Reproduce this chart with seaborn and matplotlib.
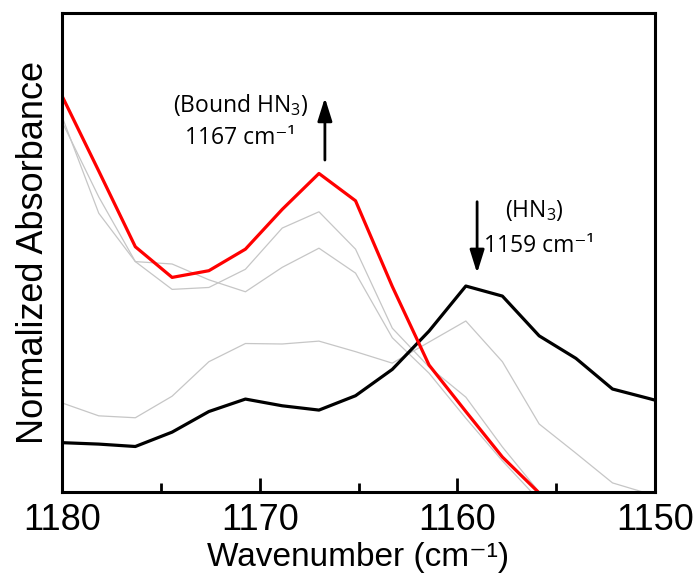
import matplotlib
matplotlib.use("Agg")
import matplotlib.pyplot as plt
import numpy as np
import pandas as pd
import seaborn as sns

# Spectral sampling (cm^-1), descending
wavenumber = [1180.0, 1178.14, 1176.29, 1174.43, 1172.57, 1170.72, 1168.86,
              1167.0, 1165.15, 1163.29, 1161.43, 1159.57, 1157.72, 1155.86,
              1154.0, 1152.15, 1150.29, 1148.43]

# Normalized absorbance traces
red_trace = [0.827, 0.670, 0.512, 0.448, 0.462, 0.507, 0.590, 0.665, 0.608,
             0.429, 0.265, 0.168, 0.073, -0.002, -0.080]
black_trace = [0.103, 0.100, 0.095, 0.125, 0.168, 0.194, 0.180, 0.171, 0.201,
               0.256, 0.336, 0.430, 0.409, 0.326, 0.279, 0.215, 0.195, 0.174]
gray_a = [0.784, 0.582, 0.481, 0.423, 0.427, 0.465, 0.551, 0.585, 0.507,
          0.342, 0.261, 0.198, 0.094, 0.000, -0.080]
gray_b = [0.773, 0.616, 0.481, 0.476, 0.443, 0.418, 0.469, 0.509, 0.457,
          0.322, 0.248, 0.154, 0.065, -0.017, -0.090]
gray_c = [0.186, 0.159, 0.155, 0.200, 0.272, 0.310, 0.309, 0.315, 0.293,
          0.269, 0.313, 0.357, 0.272, 0.142, 0.081, 0.019, -0.004, -0.030]

x_ticks = [1180, 1170, 1160, 1150]
x_minor = [1175, 1165, 1155]

sns.set_theme(style="ticks")
plt.rcParams["font.family"] = ["Liberation Sans", "DejaVu Sans"]
plt.rcParams["mathtext.default"] = "regular"
for key in ("text.color", "axes.labelcolor", "xtick.color", "ytick.color",
            "axes.edgecolor"):
    plt.rcParams[key] = "black"

fig = plt.figure(figsize=(6.96, 5.83), dpi=100)
ax = fig.add_axes([62 / 696, 1 - 492 / 583, 593 / 696, 479 / 583])


def frame(name, values):
    return pd.DataFrame({"wn": wavenumber[:len(values)], "abs": values, "trace": name})


for name, vals in [("a", gray_a), ("b", gray_b), ("c", gray_c)]:
    sns.lineplot(data=frame(name, vals), x="wn", y="abs", sort=False,
                 estimator=None, color="#c6c6c6", lw=0.9, ax=ax)
sns.lineplot(data=frame("black", black_trace), x="wn", y="abs", sort=False,
             estimator=None, color="black", lw=2.3, ax=ax)
sns.lineplot(data=frame("red", red_trace), x="wn", y="abs", sort=False,
             estimator=None, color="#ff0000", lw=2.3, ax=ax)

ax.set_xlim(1180, 1150)
ax.set_ylim(0, 1)
ax.set_xticks(x_ticks)
ax.set_xticks(x_minor, minor=True)
ax.set_xticklabels([str(t) for t in x_ticks])
ax.set_yticks([])
ax.tick_params(axis="x", which="major", direction="in", length=10, width=2,
               labelsize=26, pad=8, color="black")
ax.tick_params(axis="x", which="minor", direction="in", length=6.5, width=2,
               color="black")
for sp in ax.spines.values():
    sp.set_linewidth(2.2)
    sp.set_color("black")

ax.set_xlabel("Wavenumber (cm\u207b\u00b9)", fontsize=24)
ax.set_ylabel("Normalized Absorbance", fontsize=26)
ax.xaxis.set_label_coords(0.5, -0.105)
ax.yaxis.set_label_coords(-0.019, 0.5)

note_font = dict(family=["Open Sans", "DejaVu Sans"], fontsize=16.5, ha="center",
                 va="baseline", color="black")
ax.text(1170.97, 0.793, "(Bound HN$_3$)", **note_font)
ax.text(1171.0, 0.727, "1167 cm\u207b\u00b9", **note_font)
ax.text(1156.08, 0.575, "(HN$_3$)", **note_font)
ax.text(1155.88, 0.502, "1159 cm\u207b\u00b9", **note_font)

arrow = dict(arrowstyle="-|>,head_length=0.7,head_width=0.22", color="black",
             lw=2, shrinkA=0, shrinkB=0, mutation_scale=20)
ax.annotate("", xy=(1166.7, 0.823), xytext=(1166.7, 0.693), arrowprops=arrow)
ax.annotate("", xy=(1159.0, 0.457), xytext=(1159.0, 0.606), arrowprops=arrow)

fig.savefig("out.png", dpi=100)
